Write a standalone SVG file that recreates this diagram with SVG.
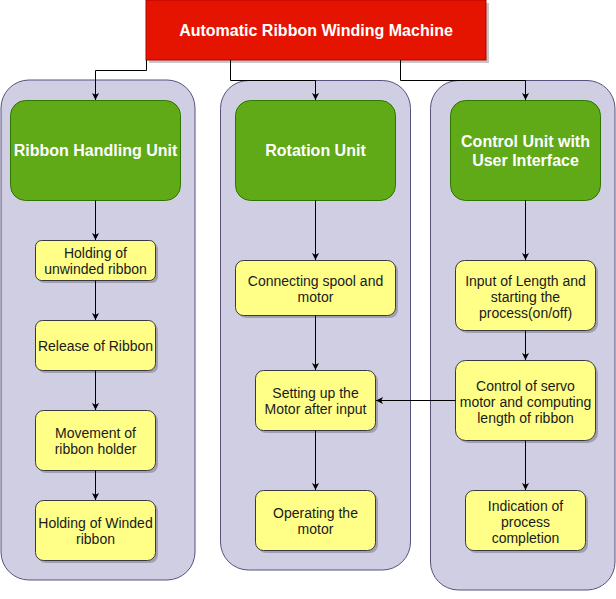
<svg xmlns="http://www.w3.org/2000/svg" width="616" height="599" viewBox="0 0 616 599">
<defs>
<style>
.cont{fill:#d0cee2;stroke:#56517e;stroke-width:1}
.green{fill:#60a917;stroke:#2d7600;stroke-width:1}
.yel{fill:#ffff88;stroke:#36393d;stroke-width:1}
.sh{fill:#000;opacity:0.22}
.red{fill:#e51400;stroke:#b20000;stroke-width:1}
.tw{font-family:"Liberation Sans",Arial,sans-serif;font-size:16px;font-weight:bold;fill:#ffffff;text-anchor:middle}
.tb{font-family:"Liberation Sans",Arial,sans-serif;font-size:14px;fill:#1a1a1a;text-anchor:middle}
.ln{fill:none;stroke:#000;stroke-width:1}
</style>
<marker id="arr" viewBox="0 0 10 10" refX="10" refY="5" markerWidth="7" markerHeight="7" markerUnits="userSpaceOnUse" orient="auto">
<path d="M0,0 L10,5 L0,10 L2.5,5 Z" fill="#000"/>
</marker>
</defs>
<rect width="616" height="599" fill="#ffffff"/>

<g id="container-ribbon"><rect class="cont" x="1" y="80" width="194" height="500" rx="28"/></g>
<g id="container-rotation"><rect class="cont" x="220.5" y="80.5" width="190" height="489.5" rx="28"/></g>
<g id="container-control"><rect class="cont" x="430.5" y="80.5" width="184.5" height="509.5" rx="28"/></g>

<g id="title">
<rect class="sh" x="149" y="3" width="340" height="60"/>
<rect class="red" x="146" y="0" width="340" height="60"/>
<text class="tw" x="316" y="36">Automatic Ribbon Winding Machine</text>
</g>

<g id="ribbon-handling-unit">
<rect class="green" x="10.5" y="100.5" width="170" height="100" rx="15"/>
<text class="tw" x="95.5" y="156">Ribbon Handling Unit</text>
</g>
<g id="rotation-unit">
<rect class="green" x="235.5" y="100.5" width="160" height="100" rx="15"/>
<text class="tw" x="315.5" y="156">Rotation Unit</text>
</g>
<g id="control-unit">
<rect class="green" x="450.5" y="100.5" width="150" height="100" rx="15"/>
<text class="tw" x="525.5" y="147">Control Unit with</text>
<text class="tw" x="525.5" y="166">User Interface</text>
</g>

<g id="holding-unwinded">
<rect class="sh" x="38" y="243" width="120" height="40" rx="6"/>
<rect class="yel" x="35.5" y="240.5" width="120" height="40" rx="6"/>
<text class="tb" x="95.5" y="258">Holding of</text>
<text class="tb" x="95.5" y="274">unwinded ribbon</text>
</g>
<g id="release-ribbon">
<rect class="sh" x="38" y="323" width="120" height="50" rx="7"/>
<rect class="yel" x="35.5" y="320.5" width="120" height="50" rx="7"/>
<text class="tb" x="95.5" y="351">Release of Ribbon</text>
</g>
<g id="movement-holder">
<rect class="sh" x="38" y="413" width="120" height="60" rx="8"/>
<rect class="yel" x="35.5" y="410.5" width="120" height="60" rx="8"/>
<text class="tb" x="95.5" y="438">Movement of</text>
<text class="tb" x="95.5" y="454">ribbon holder</text>
</g>
<g id="holding-winded">
<rect class="sh" x="38" y="503" width="120" height="60" rx="8"/>
<rect class="yel" x="35.5" y="500.5" width="120" height="60" rx="8"/>
<text class="tb" x="95.5" y="528">Holding of Winded</text>
<text class="tb" x="95.5" y="544">ribbon</text>
</g>

<g id="connecting-spool">
<rect class="sh" x="238" y="263" width="160" height="55" rx="8"/>
<rect class="yel" x="235.5" y="260.5" width="160" height="55" rx="8"/>
<text class="tb" x="315.5" y="286">Connecting spool and</text>
<text class="tb" x="315.5" y="302">motor</text>
</g>
<g id="setting-motor">
<rect class="sh" x="258" y="373" width="120" height="60" rx="8"/>
<rect class="yel" x="255.5" y="370.5" width="120" height="60" rx="8"/>
<text class="tb" x="315.5" y="398">Setting up the</text>
<text class="tb" x="315.5" y="414">Motor after input</text>
</g>
<g id="operating-motor">
<rect class="sh" x="258" y="493" width="120" height="60" rx="8"/>
<rect class="yel" x="255.5" y="490.5" width="120" height="60" rx="8"/>
<text class="tb" x="315.5" y="518">Operating the</text>
<text class="tb" x="315.5" y="534">motor</text>
</g>

<g id="input-length">
<rect class="sh" x="458" y="263" width="140" height="70" rx="9"/>
<rect class="yel" x="455.5" y="260.5" width="140" height="70" rx="9"/>
<text class="tb" x="525.5" y="286">Input of Length and</text>
<text class="tb" x="525.5" y="302">starting the</text>
<text class="tb" x="525.5" y="318">process(on/off)</text>
</g>
<g id="control-servo">
<rect class="sh" x="458" y="363" width="140" height="80" rx="10"/>
<rect class="yel" x="455.5" y="360.5" width="140" height="80" rx="10"/>
<text class="tb" x="525.5" y="391">Control of servo</text>
<text class="tb" x="525.5" y="407">motor and computing</text>
<text class="tb" x="525.5" y="423">length of ribbon</text>
</g>
<g id="indication">
<rect class="sh" x="468" y="493" width="120" height="60" rx="8"/>
<rect class="yel" x="465.5" y="490.5" width="120" height="60" rx="8"/>
<text class="tb" x="525.5" y="511">Indication of</text>
<text class="tb" x="525.5" y="527">process</text>
<text class="tb" x="525.5" y="543">completion</text>
</g>

<g id="connectors">
<path class="ln" d="M146.5,60 V70.5 H95.5 V100" marker-end="url(#arr)"/>
<path class="ln" d="M230.5,60 V80.5 H315.5 V100" marker-end="url(#arr)"/>
<path class="ln" d="M400.5,60 V80.5 H525.5 V100" marker-end="url(#arr)"/>
<path class="ln" d="M95.5,200.5 V240" marker-end="url(#arr)"/>
<path class="ln" d="M95.5,280.5 V320" marker-end="url(#arr)"/>
<path class="ln" d="M95.5,370.5 V410" marker-end="url(#arr)"/>
<path class="ln" d="M95.5,470.5 V500" marker-end="url(#arr)"/>
<path class="ln" d="M315.5,200.5 V260" marker-end="url(#arr)"/>
<path class="ln" d="M315.5,315.5 V370" marker-end="url(#arr)"/>
<path class="ln" d="M315.5,430.5 V490" marker-end="url(#arr)"/>
<path class="ln" d="M525.5,200.5 V260" marker-end="url(#arr)"/>
<path class="ln" d="M525.5,330.5 V360" marker-end="url(#arr)"/>
<path class="ln" d="M525.5,440.5 V490" marker-end="url(#arr)"/>
<path class="ln" d="M455.5,400.5 H376" marker-end="url(#arr)"/>
</g>
</svg>
